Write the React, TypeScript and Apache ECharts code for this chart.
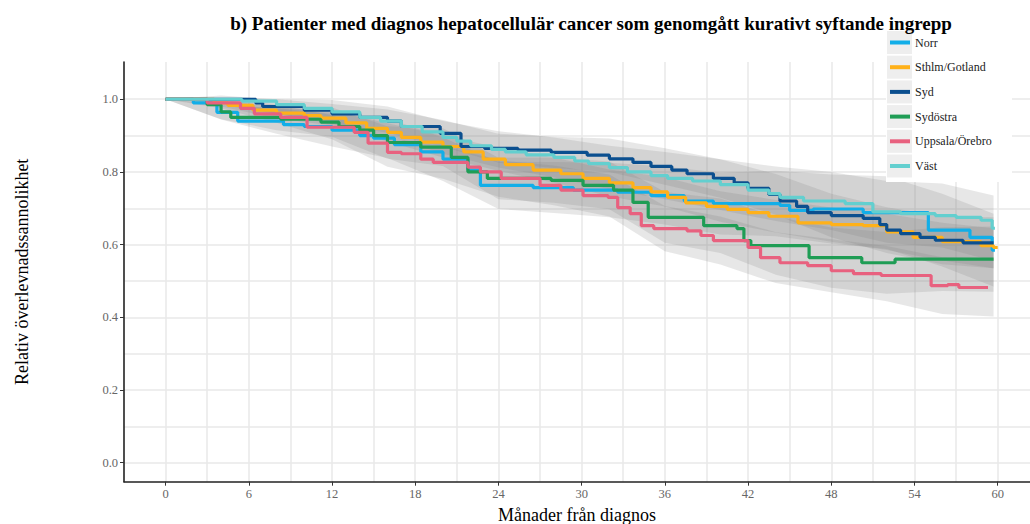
import React, { useEffect, useRef } from "react";
import * as echarts from "echarts";

const titleText = "b) Patienter med diagnos hepatocellulär cancer som genomgått kurativt syftande ingrepp";
const xTitle = "Månader från diagnos";
const yTitle = "Relativ överlevnadssannolikhet";

const names = ["Norr", "Sthlm/Gotland", "Syd", "Sydöstra", "Uppsala/Örebro", "Väst"];
const colors = ["#12aee8", "#ffb119", "#0b4f8f", "#1f9d55", "#e8617f", "#63cfcf"];

const xLabelValues = [0, 6, 12, 18, 24, 30, 36, 42, 48, 54, 60];
const xGridValues = [0, 3, 6, 9, 12, 15, 18, 21, 24, 27, 30, 33, 36, 39, 42, 45, 48, 51, 54, 57, 60, 63];
const yLabelValues = [0, 0.2, 0.4, 0.6, 0.8, 1.0];
const yGridValues = [0, 0.1, 0.2, 0.3, 0.4, 0.5, 0.6, 0.7, 0.8, 0.9, 1.0];

// step curves: [month, survival]
const norr = [[0,1],[2,0.99],[3.7,0.964],[5.2,0.94],[8.5,0.93],[10,0.925],[12,0.915],[14,0.9],[15,0.893],[16.5,0.875],[18.4,0.855],[20,0.835],[21.8,0.805],[22.7,0.763],[26.5,0.757],[29.4,0.75],[32.6,0.744],[35,0.735],[37.4,0.72],[39.5,0.713],[44.3,0.708],[45,0.694],[46.7,0.698],[50.3,0.688],[55,0.64],[58,0.62],[59.6,0.585],[59.8,0.585]];
const sthlm = [[0,1],[3.5,0.99],[4.5,0.983],[6.3,0.97],[8,0.962],[10,0.955],[11.2,0.948],[13,0.935],[14.5,0.92],[16,0.909],[17,0.895],[18.4,0.882],[20,0.87],[21.5,0.855],[22.9,0.835],[24.5,0.82],[26.5,0.805],[28.5,0.795],[30.1,0.782],[32,0.77],[33.7,0.757],[35,0.745],[36.2,0.73],[37.5,0.715],[39,0.705],[40.5,0.697],[42,0.688],[43.5,0.678],[45.6,0.66],[48,0.655],[50.3,0.652],[52,0.635],[53.9,0.62],[56,0.608],[58.8,0.597],[59.7,0.592],[60,0.592]];
const syd = [[0,1],[6.5,0.99],[7,0.98],[10,0.97],[12,0.96],[14,0.95],[16,0.94],[17,0.925],[19.8,0.906],[21.3,0.87],[23,0.865],[25.4,0.86],[27.8,0.854],[30.4,0.846],[32,0.836],[33.7,0.826],[35,0.815],[36.5,0.805],[37.6,0.795],[39.5,0.782],[41,0.77],[42,0.755],[43.5,0.738],[44.3,0.72],[45.5,0.705],[46.3,0.688],[48,0.68],[50.3,0.672],[51.5,0.655],[52,0.64],[53,0.63],[54.4,0.62],[55.5,0.612],[57.5,0.605],[59.7,0.605]];
const sydostra = [[0,1],[3,0.985],[4,0.965],[4.7,0.95],[8.3,0.945],[11.2,0.937],[12.5,0.925],[14,0.915],[15,0.9],[16,0.881],[18.4,0.868],[20.6,0.84],[21.8,0.8],[23.2,0.782],[27.8,0.777],[30.1,0.763],[32.3,0.75],[33.7,0.716],[34.8,0.675],[38.8,0.652],[41.2,0.644],[41.7,0.611],[42.2,0.597],[46.4,0.564],[50.2,0.55],[52.6,0.56],[59.7,0.56]];
const uppsala = [[0,1],[3,0.99],[5.4,0.975],[6.4,0.96],[8.3,0.95],[10.2,0.923],[13.6,0.909],[14.6,0.879],[16,0.854],[17,0.85],[18.4,0.835],[19.3,0.826],[21.8,0.813],[22.7,0.8],[24.2,0.782],[27,0.763],[28.5,0.75],[30.1,0.735],[31.9,0.73],[32.6,0.702],[33.5,0.685],[34.3,0.652],[35.2,0.644],[37.6,0.638],[38.6,0.625],[39.5,0.611],[42,0.592],[42.9,0.564],[44.3,0.55],[46.3,0.542],[48,0.528],[49.6,0.52],[51.6,0.515],[55.2,0.487],[56.4,0.49],[57.2,0.482],[59.3,0.482]];
const vast = [[0,1],[5.5,0.995],[8,0.985],[10,0.975],[12,0.965],[14,0.95],[15.5,0.94],[17,0.925],[18.5,0.91],[20,0.895],[21,0.885],[22,0.872],[23.5,0.862],[24.5,0.855],[26,0.847],[28,0.84],[29.5,0.83],[30.5,0.823],[32,0.812],[33.3,0.8],[35,0.79],[36.2,0.782],[38,0.775],[40,0.765],[42,0.75],[43.5,0.74],[44.3,0.73],[46,0.72],[49,0.713],[51,0.69],[53,0.685],[55.5,0.68],[57,0.675],[58.8,0.667],[59.6,0.645],[59.8,0.645]];

// confidence bands: [month, lower, upper]
const norrBand = [[0,1,1],[4,0.944,0.984],[8,0.905,0.975],[12,0.87,0.96],[16,0.838,0.948],[20,0.775,0.895],[24,0.698,0.828],[28,0.687,0.827],[32,0.675,0.825],[36,0.655,0.815],[40,0.628,0.798],[44,0.623,0.803],[48,0.603,0.793],[52,0.588,0.788],[56,0.54,0.74],[59.7,0.485,0.685]];
const sthlmBand = [[0,1,1],[4,0.98,1.0],[8,0.947,0.977],[12,0.928,0.968],[16,0.884,0.934],[20,0.84,0.9],[24,0.803,0.867],[28,0.77,0.84],[32,0.733,0.807],[36,0.705,0.785],[40,0.663,0.747],[44,0.633,0.723],[48,0.608,0.702],[52,0.585,0.685],[56,0.556,0.66],[59.7,0.535,0.645]];
const sydBand = [[0,1,1],[4,0.988,1.01],[8,0.96,1.0],[12,0.933,0.987],[16,0.908,0.972],[20,0.869,0.943],[24,0.825,0.905],[28,0.811,0.897],[32,0.8,0.892],[36,0.765,0.865],[40,0.729,0.835],[44,0.682,0.794],[48,0.62,0.74],[52,0.577,0.703],[56,0.546,0.678],[59.7,0.535,0.675]];
const sydostraBand = [[0,1,1],[4,0.945,0.985],[8,0.915,0.975],[12,0.897,0.977],[16,0.836,0.926],[20,0.816,0.92],[24,0.725,0.839],[28,0.715,0.839],[32,0.697,0.829],[36,0.605,0.745],[40,0.577,0.727],[44,0.517,0.677],[48,0.481,0.647],[52,0.465,0.635],[56,0.472,0.648],[59.7,0.47,0.65]];
const uppsalaBand = [[0,1,1],[4,0.975,1.0],[8,0.935,0.985],[12,0.89,0.956],[16,0.814,0.894],[20,0.781,0.871],[24,0.732,0.832],[28,0.708,0.818],[32,0.677,0.793],[36,0.582,0.706],[40,0.545,0.677],[44,0.494,0.634],[48,0.469,0.615],[52,0.444,0.596],[56,0.409,0.565],[59.7,0.402,0.562]];
const vastBand = [[0,1,1],[4,0.985,1.0],[8,0.96,1.0],[12,0.932,0.998],[16,0.9,0.98],[20,0.85,0.94],[24,0.812,0.912],[28,0.785,0.895],[32,0.752,0.872],[36,0.725,0.855],[40,0.695,0.835],[44,0.665,0.815],[48,0.64,0.8],[52,0.605,0.775],[56,0.592,0.768],[59.7,0.555,0.735]];

const curves = [norr, sthlm, syd, sydostra, uppsala, vast];
const bands = [norrBand, sthlmBand, sydBand, sydostraBand, uppsalaBand, vastBand];

const FONT = "Liberation Serif";

export default function App() {
  const ref = useRef<HTMLDivElement>(null);
  useEffect(() => {
    if (!ref.current) return;
    const chart = echarts.init(ref.current, null, { renderer: "svg" });
    const xMin = -3, xMax = 62.33, yMin = -0.0525, yMax = 1.1025;

    const bandSeries = bands.map((band, bi) => ({
      type: "custom",
      name: "band" + bi,
      xAxisIndex: 0,
      yAxisIndex: 0,
      z: 1,
      silent: true,
      data: band,
      encode: { x: 0, y: [1, 2] },
      renderItem: (params: any, api: any) => {
        if (params.dataIndex !== 0) return null;
        const upper = band.map((p) => api.coord([p[0], p[2]]));
        const lower = band.map((p) => api.coord([p[0], p[1]])).reverse();
        return {
          type: "polygon",
          shape: { points: upper.concat(lower) },
          style: { fill: "rgba(120,120,120,0.18)", stroke: null },
        };
      },
    }));

    const lineSeries = curves.map((c, i) => ({
      type: "line",
      name: names[i],
      step: "end",
      data: c,
      showSymbol: false,
      symbol: "none",
      z: 2,
      lineStyle: { color: colors[i], width: 3.2 },
      itemStyle: { color: colors[i] },
    }));

    const legendTop = 31;
    const pitch = 24.7;
    const graphics: any[] = [
      { type: "rect", shape: { x: 886, y: legendTop - 1, width: 126, height: 152 }, style: { fill: "#ffffff" }, z: 3 },
      ...names.map((_, i) => ({
        type: "rect",
        shape: { x: 887, y: legendTop + i * pitch, width: 25, height: 23 },
        style: { fill: "#eeeeee" },
        z: 3,
      })),
    ];

    chart.setOption({
      animation: false,
      backgroundColor: "#ffffff",
      title: {
        text: titleText,
        left: 586,
        top: 9,
        textAlign: "center",
        textStyle: { fontFamily: FONT, fontWeight: "bold", fontSize: 19, color: "#000" },
      },
      grid: { left: 124, right: 0, top: 62, bottom: 42.3, containLabel: false, outerBoundsMode: "none" },
      legend: {
        data: names,
        orient: "vertical",
        left: 890,
        top: legendTop,
        padding: 0,
        icon: "rect",
        itemWidth: 20,
        itemHeight: 4,
        itemGap: 1.7,
        selectedMode: false,
        textStyle: { fontFamily: FONT, fontSize: 12, color: "#222", lineHeight: 23 },
      },
      graphic: graphics,
      xAxis: [
        {
          type: "value",
          min: xMin,
          max: xMax,
          position: "bottom",
          axisLine: { show: false, onZero: false },
          axisTick: { show: false, customValues: xGridValues },
          axisLabel: { show: false },
          splitLine: { show: true, lineStyle: { color: "#e8e8e8", width: 1.5 } },
        },
        {
          type: "value",
          min: xMin,
          max: xMax,
          position: "bottom",
          name: xTitle,
          nameLocation: "middle",
          nameGap: 17,
          nameTextStyle: { fontFamily: FONT, fontSize: 18, color: "#000", lineHeight: 18 },
          axisLine: { show: true, onZero: false, lineStyle: { color: "#222", width: 1.6 } },
          axisTick: { show: true, length: 4, customValues: xLabelValues, lineStyle: { color: "#333" } },
          axisLabel: { customValues: xLabelValues, margin: 6, fontFamily: FONT, fontSize: 12.5, color: "#666" },
          splitLine: { show: false },
        },
      ],
      yAxis: [
        {
          type: "value",
          min: yMin,
          max: yMax,
          position: "left",
          axisLine: { show: false, onZero: false },
          axisTick: { show: false, customValues: yGridValues },
          axisLabel: { show: false },
          splitLine: { show: true, lineStyle: { color: "#e8e8e8", width: 1.5 } },
        },
        {
          type: "value",
          min: yMin,
          max: yMax,
          position: "left",
          name: yTitle,
          nameLocation: "middle",
          nameRotate: 90,
          nameGap: 93,
          nameTextStyle: { fontFamily: FONT, fontSize: 18, color: "#000" },
          axisLine: { show: true, onZero: false, lineStyle: { color: "#222", width: 1.6 } },
          axisTick: { show: true, length: 4, customValues: yLabelValues, lineStyle: { color: "#333" } },
          axisLabel: {
            customValues: yLabelValues,
            margin: 6,
            fontFamily: FONT,
            fontSize: 12.5,
            color: "#666",
            formatter: (v: number) => v.toFixed(1),
          },
          splitLine: { show: false },
        },
      ],
      series: [...bandSeries, ...lineSeries],
    });
    return () => chart.dispose();
  }, []);
  return <div ref={ref} style={{ position: "absolute", left: 0, top: 0, width: 1030, height: 524 }} />;
}
